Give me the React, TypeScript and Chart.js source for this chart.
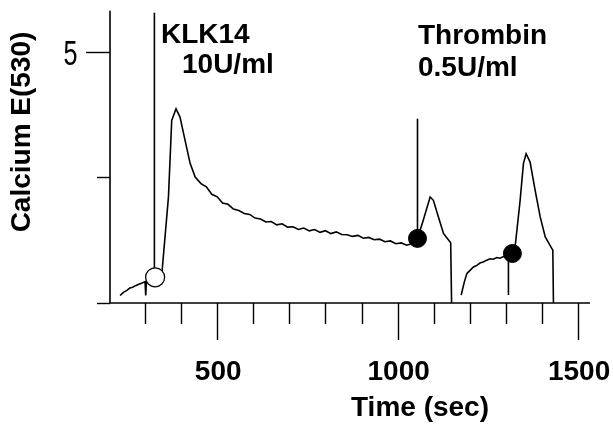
import React, { useEffect, useRef } from "react";
import { Chart, registerables } from "chart.js";

Chart.register(...registerables);

// ---- data ----
const traceTime: number[] = [
  231, 240, 250, 258, 266, 275, 283, 292, 300, 302, 304, 312, 320, 328,
  346, 365, 374, 386, 397, 411, 425, 439,
  455, 470, 485, 500, 515, 530, 545, 560, 575, 590, 605, 620, 635, 650,
  665, 680, 695, 710, 725, 740, 755, 770, 785, 800, 815, 830, 845, 860,
  875, 890, 905, 920, 935, 950, 965, 980, 995, 1010, 1025, 1034,
  1055, 1071, 1090, 1099, 1113, 1127, 1147, 1149.5, 1150,
  1176, 1185, 1192, 1200, 1210, 1219, 1228, 1237, 1247, 1256, 1265, 1275,
  1284, 1293, 1302, 1310, 1318, 1325.5, 1339.4, 1348.5, 1356, 1367, 1381,
  1395, 1409, 1427, 1430, 1431.7,
];
const traceCalcium: (number | null)[] = [
  3.06, 3.085, 3.1, 3.12, 3.125, 3.14, 3.15, 3.16, 3.17, 3.06, 3.17, 3.185, 3.195, 3.204,
  3.211, 3.844, 4.452, 4.545, 4.479, 4.294, 4.111, 4.002,
  3.95, 3.925, 3.865, 3.845, 3.795, 3.785, 3.748, 3.736, 3.712, 3.705, 3.676, 3.668, 3.645, 3.648,
  3.622, 3.63, 3.604, 3.607, 3.585, 3.596, 3.574, 3.585, 3.562, 3.575, 3.552, 3.566, 3.545, 3.543,
  3.53, 3.538, 3.515, 3.522, 3.503, 3.508, 3.488, 3.494, 3.472, 3.478, 3.46, 3.468,
  3.514, 3.659, 3.844, 3.817, 3.685, 3.553, 3.479, 3.0, null,
  3.063, 3.17, 3.236, 3.258, 3.287, 3.298, 3.318, 3.326, 3.341, 3.352, 3.348, 3.362,
  3.356, 3.37, 3.367, 3.382, 3.394, 3.447, 3.817, 4.109, 4.188, 4.121, 3.897,
  3.685, 3.526, 3.434, 3.421, 3.0,
];

// injection artefacts: vertical strokes [time, from, to]
const spikeTime: number[] = [326, 1055, 1307];
const spikeFrom: number[] = [3.204, 3.514, 3.37];
const spikeTo: number[] = [5.31, 4.466, 3.063];

// markers
const openMarkerTime: number[] = [328];
const openMarkerValue: number[] = [3.204];
const filledMarkerTime: number[] = [1055, 1318];
const filledMarkerValue: number[] = [3.514, 3.394];

// axes
const xMin = 203;
const xMax = 1533;
const yMin = 3;
const yMax = 5.325;
const xTickValues: number[] = [300, 400, 500, 600, 700, 800, 900, 1000, 1100, 1200, 1300, 1400, 1500];
const xTickLabels: number[] = [500, 1000, 1500];
const yTickValues: number[] = [3, 4, 5];
const yTickLabels: number[] = [5];

const xTitle = "Time (sec)";
const yTitle = "Calcium E(530)";
const annotations = [
  { text: "KLK14", x: 161, y: 43 },
  { text: "10U/ml", x: 182, y: 73 },
  { text: "Thrombin", x: 418, y: 44 },
  { text: "0.5U/ml", x: 418, y: 76 },
];

const axesPlugin = {
  id: "sciAxes",
  afterDraw(chart: any) {
    const { ctx, chartArea, scales } = chart;
    const { left, right, top, bottom } = chartArea;
    const xs = scales.x;
    const ys = scales.y;
    ctx.save();
    ctx.strokeStyle = "#000";
    ctx.fillStyle = "#000";
    ctx.lineWidth = 1.6;
    ctx.beginPath();
    ctx.moveTo(left, top);
    ctx.lineTo(left, bottom);
    ctx.lineTo(right, bottom);
    ctx.stroke();

    ctx.lineWidth = 1.4;
    for (const t of xTickValues) {
      const px = Math.round(xs.getPixelForValue(t)) + 0.5;
      const len = xTickLabels.includes(t) ? 37 : 21;
      ctx.beginPath();
      ctx.moveTo(px, bottom);
      ctx.lineTo(px, bottom + len);
      ctx.stroke();
    }
    ctx.font = 'bold 28px "Liberation Sans", Arial, sans-serif';
    ctx.textAlign = "center";
    ctx.textBaseline = "alphabetic";
    for (const t of xTickLabels) {
      const px = xs.getPixelForValue(t);
      ctx.fillText(String(t), px + 1, 380);
    }

    for (const v of yTickValues) {
      const py = Math.round(ys.getPixelForValue(v)) + 0.5;
      const len = yTickLabels.includes(v) ? 24 : 13;
      ctx.beginPath();
      ctx.moveTo(left - len, py);
      ctx.lineTo(left, py);
      ctx.stroke();
    }
    ctx.font = '35px "Liberation Sans", Arial, sans-serif';
    ctx.textAlign = "center";
    ctx.textBaseline = "middle";
    for (const v of yTickLabels) {
      const py = ys.getPixelForValue(v);
      ctx.save();
      ctx.translate(70.5, py + 4);
      ctx.scale(0.72, 1.02);
      ctx.fillText(String(v), 0, 0);
      ctx.restore();
    }

    ctx.font = 'bold 28px "Liberation Sans", Arial, sans-serif';
    ctx.textAlign = "center";
    ctx.textBaseline = "alphabetic";
    ctx.fillText(xTitle, 420, 416);

    ctx.save();
    ctx.translate(22, 132);
    ctx.rotate(-Math.PI / 2);
    ctx.textBaseline = "middle";
    ctx.fillText(yTitle, 0, 0);
    ctx.restore();

    ctx.textAlign = "left";
    ctx.textBaseline = "alphabetic";
    for (const a of annotations) {
      ctx.fillText(a.text, a.x, a.y);
    }
    ctx.restore();
  },
};

export default function App() {
  const ref = useRef<HTMLCanvasElement | null>(null);
  useEffect(() => {
    if (!ref.current) return;
    const traceData = traceTime.map((t, i) => ({ x: t, y: traceCalcium[i] }));
    const spikeData: any[] = [];
    spikeTime.forEach((t, i) => {
      spikeData.push({ x: t, y: spikeFrom[i] });
      spikeData.push({ x: t, y: spikeTo[i] });
      spikeData.push({ x: t, y: null });
    });
    const chart = new Chart(ref.current, {
      type: "line",
      data: {
        datasets: [
          {
            type: "scatter",
            data: openMarkerTime.map((t, i) => ({ x: t, y: openMarkerValue[i] })),
            pointRadius: 9.5,
            pointBackgroundColor: "#fff",
            pointBorderColor: "#000",
            pointBorderWidth: 1.3,
            order: 0,
          } as any,
          {
            type: "scatter",
            data: filledMarkerTime.map((t, i) => ({ x: t, y: filledMarkerValue[i] })),
            pointRadius: 9,
            pointBackgroundColor: "#000",
            pointBorderColor: "#000",
            pointBorderWidth: 1,
            order: 0,
          } as any,
          {
            data: traceData as any,
            borderColor: "#000",
            borderWidth: 1.6,
            pointRadius: 0,
            spanGaps: false,
            tension: 0,
            order: 2,
          },
          {
            data: spikeData,
            borderColor: "#000",
            borderWidth: 1.6,
            pointRadius: 0,
            spanGaps: false,
            order: 1,
          },
        ],
      },
      options: {
        animation: false,
        responsive: false,
        devicePixelRatio: 1,
        layout: { padding: { left: 110, right: 23, top: 10, bottom: 129 } },
        plugins: { legend: { display: false }, tooltip: { enabled: false } },
        scales: {
          x: { type: "linear", min: xMin, max: xMax, display: false },
          y: { type: "linear", min: yMin, max: yMax, display: false },
        },
      },
      plugins: [axesPlugin],
    });
    return () => chart.destroy();
  }, []);
  return (
    <div style={{ position: "absolute", left: 0, top: 0, width: 613, height: 432, background: "#fff" }}>
      <canvas ref={ref} width={613} height={432} />
    </div>
  );
}
